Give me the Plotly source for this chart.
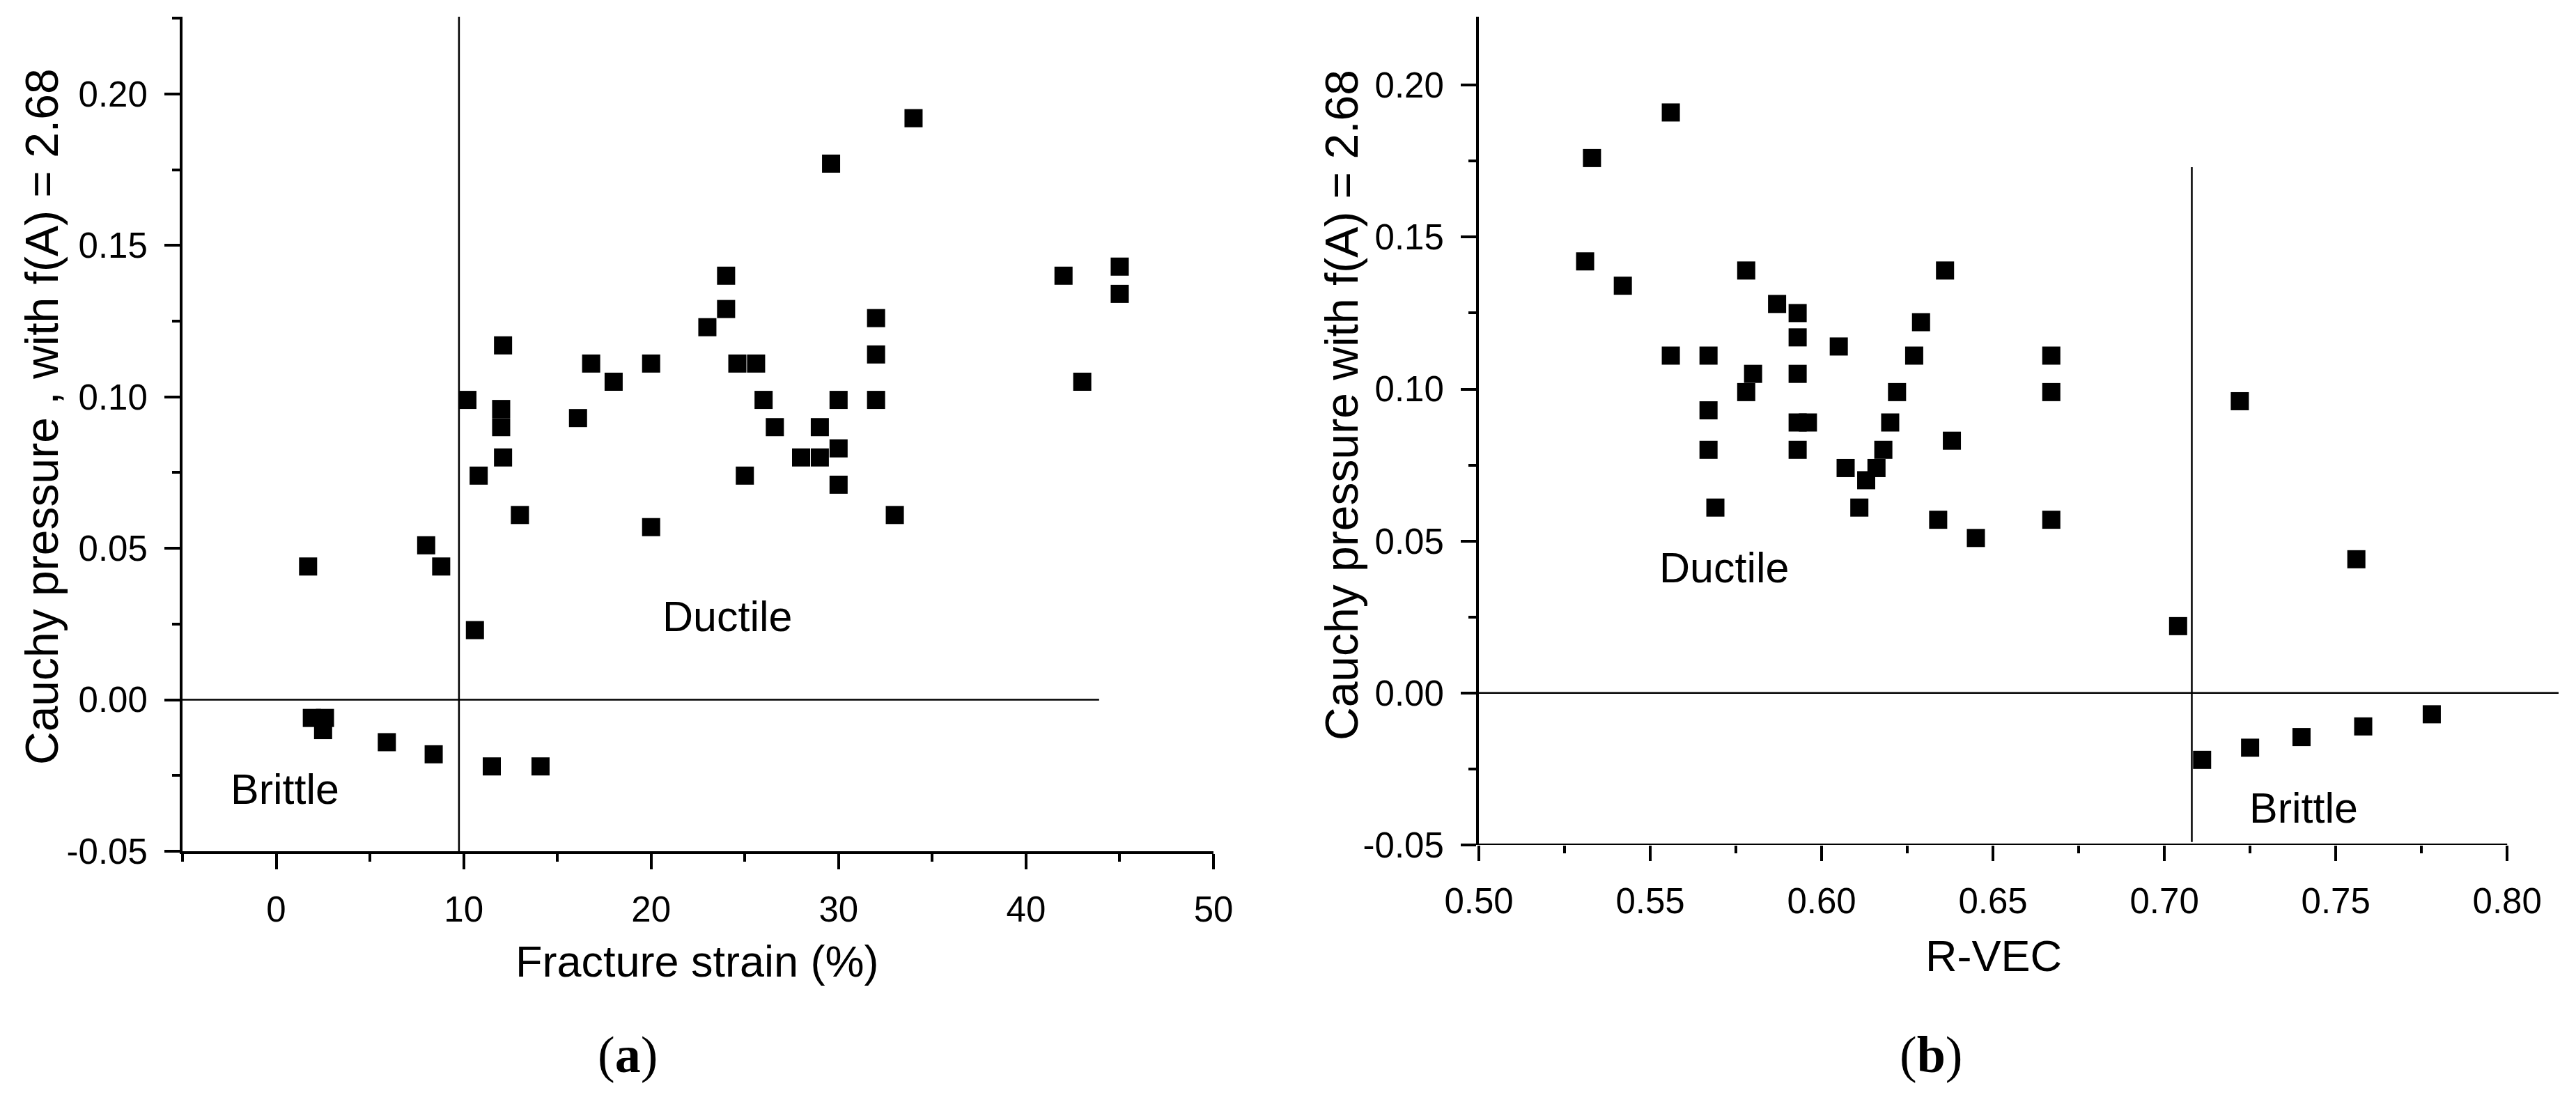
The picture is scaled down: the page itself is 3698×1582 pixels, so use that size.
import plotly.graph_objects as go

# panel (a): fracture strain vs Cauchy pressure
strain = [1.7, 8.0, 8.8, 10.6, 10.2, 10.8, 12.1, 12.0, 12.0, 12.1,
          13.0, 16.1, 16.8, 18.0, 20.0, 20.0, 23.0, 24.0, 24.0, 24.6,
          25.6, 25.0, 26.0, 26.6, 28.0, 29.0, 29.0, 29.6, 30.0, 30.0,
          30.0, 32.0, 32.0, 32.0, 33.0, 34.0, 42.0, 43.0, 45.0, 45.0,
          1.9, 2.6, 2.5, 5.9, 8.4, 11.5, 14.1]
cp_a = [0.044, 0.051, 0.044, 0.023, 0.099, 0.074, 0.117, 0.096, 0.090, 0.080,
        0.061, 0.093, 0.111, 0.105, 0.111, 0.057, 0.123, 0.140, 0.129, 0.111,
        0.111, 0.074, 0.099, 0.090, 0.080, 0.080, 0.090, 0.177, 0.099, 0.083,
        0.071, 0.126, 0.114, 0.099, 0.061, 0.192, 0.140, 0.105, 0.143, 0.134,
        -0.006, -0.006, -0.010, -0.014, -0.018, -0.022, -0.022]

# panel (b): R-VEC vs Cauchy pressure
rvec = [0.531, 0.533, 0.542, 0.556, 0.556, 0.567, 0.567, 0.567, 0.569, 0.578,
        0.578, 0.580, 0.587, 0.593, 0.593, 0.593, 0.593, 0.596, 0.593, 0.605,
        0.607, 0.611, 0.613, 0.616, 0.618, 0.620, 0.622, 0.627, 0.629, 0.634,
        0.636, 0.638, 0.645, 0.667, 0.667, 0.667, 0.704, 0.722, 0.756,
        0.711, 0.725, 0.740, 0.758, 0.778]
cp_b = [0.142, 0.176, 0.134, 0.191, 0.111, 0.111, 0.093, 0.080, 0.061, 0.139,
        0.099, 0.105, 0.128, 0.125, 0.117, 0.105, 0.089, 0.089, 0.080, 0.114,
        0.074, 0.061, 0.070, 0.074, 0.080, 0.089, 0.099, 0.111, 0.122, 0.057,
        0.139, 0.083, 0.051, 0.111, 0.099, 0.057, 0.022, 0.096, 0.044,
        -0.022, -0.018, -0.0145, -0.011, -0.007]

y_ticks = [-0.05, 0.00, 0.05, 0.10, 0.15, 0.20]
y_labels = ["-0.05", "0.00", "0.05", "0.10", "0.15", "0.20"]
xa_ticks = [0, 10, 20, 30, 40, 50]
xa_labels = ["0", "10", "20", "30", "40", "50"]
xb_ticks = [0.50, 0.55, 0.60, 0.65, 0.70, 0.75, 0.80]
xb_labels = ["0.50", "0.55", "0.60", "0.65", "0.70", "0.75", "0.80"]

# ductile / brittle boundaries
strain_cut = 9.75
rvec_cut = 0.708

FONT = "Liberation Sans, Arial, sans-serif"
W, H = 3698, 1582
OFF = 8  # default body margin of the page


def px(x):
    return (x - OFF) / W


def py(y):
    return 1 - (y - OFF) / H


fig = go.Figure()
fig.add_trace(go.Scatter(
    x=strain, y=cp_a, mode="markers", xaxis="x", yaxis="y",
    marker=dict(symbol="square", size=26, color="black", line_width=0),
    showlegend=False,
))
fig.add_trace(go.Scatter(
    x=rvec, y=cp_b, mode="markers", xaxis="x2", yaxis="y2",
    marker=dict(symbol="square", size=26, color="black", line_width=0),
    showlegend=False,
))

axis_common = dict(
    showgrid=False, zeroline=False, ticks="outside", tickwidth=4,
    ticklen=22, tickcolor="black", linecolor="black", linewidth=4,
    tickfont=dict(family=FONT, size=51, color="black"),
    ticklabelstandoff=14, automargin=False,
)
minor_common = dict(ticks="outside", ticklen=11, tickwidth=4, tickcolor="black")

fig.update_layout(
    template="none",
    width=W, height=H,
    margin=dict(l=0, r=0, t=0, b=0, pad=0),
    plot_bgcolor="white", paper_bgcolor="white",
    font=dict(family=FONT, color="black"),
    xaxis=dict(
        **axis_common, domain=[px(262), px(1742)], anchor="y",
        range=[-5, 50], showline=True,
        tickvals=xa_ticks, ticktext=xa_labels,
        minor=dict(tickvals=[-5, 5, 15, 25, 35, 45], **minor_common),
    ),
    yaxis=dict(
        **axis_common, domain=[py(1222), py(24)], anchor="x",
        range=[-0.05, 0.2255], showline=True,
        tickvals=y_ticks, ticktext=y_labels,
        minor=dict(tickvals=[-0.025, 0.025, 0.075, 0.125, 0.175, 0.225], **minor_common),
    ),
    xaxis2=dict(
        **axis_common, domain=[px(2123), px(3673)], anchor="y2",
        range=[0.5, 0.815], showline=False,
        tickvals=xb_ticks, ticktext=xb_labels,
        minor=dict(tickvals=[0.525, 0.575, 0.625, 0.675, 0.725, 0.775], **minor_common),
    ),
    yaxis2=dict(
        **axis_common, domain=[py(1213), py(24)], anchor="x2",
        range=[-0.05, 0.2225], showline=True,
        tickvals=y_ticks, ticktext=y_labels,
        minor=dict(tickvals=[-0.025, 0.025, 0.075, 0.125, 0.175], **minor_common),
    ),
)

thin = dict(color="black", width=2.5)
fig.add_shape(type="line", xref="x", yref="y", x0=strain_cut, x1=strain_cut,
              y0=-0.05, y1=0.2255, line=thin)
fig.add_shape(type="line", xref="x", yref="y", x0=-5, x1=43.9, y0=0, y1=0, line=thin)
fig.add_shape(type="line", xref="x2", yref="y2", x0=rvec_cut, x1=rvec_cut,
              y0=-0.049, y1=0.173, line=thin)
fig.add_shape(type="line", xref="x2", yref="y2", x0=0.5, x1=0.815, y0=0, y1=0, line=thin)
# bottom axis of panel (b) stops at 0.80
fig.add_shape(type="line", xref="x2", yref="y2", x0=0.5, x1=0.8, y0=-0.05, y1=-0.05,
              line=dict(color="black", width=4))

centred = dict(showarrow=False, xanchor="center", yanchor="middle")
label_font = dict(family=FONT, size=61, color="black")
fig.add_annotation(x=24.05, y=0.0276, xref="x", yref="y", text="Ductile",
                   font=label_font, **centred)
fig.add_annotation(x=0.45, y=-0.0295, xref="x", yref="y", text="Brittle",
                   font=label_font, **centred)
fig.add_annotation(x=0.5715, y=0.0413, xref="x2", yref="y2", text="Ductile",
                   font=label_font, **centred)
fig.add_annotation(x=0.7407, y=-0.0378, xref="x2", yref="y2", text="Brittle",
                   font=label_font, **centred)

ytitle_font = dict(family=FONT, size=66, color="black")
fig.add_annotation(x=px(60), y=py(598), xref="paper", yref="paper",
                   text="Cauchy pressure , with f(A) = 2.68", textangle=-90,
                   font=ytitle_font, **centred)
fig.add_annotation(x=px(1926), y=py(581), xref="paper", yref="paper",
                   text="Cauchy pressure with f(A) = 2.68", textangle=-90,
                   font=ytitle_font, **centred)
xtitle_font = dict(family=FONT, size=63, color="black")
fig.add_annotation(x=px(1001), y=py(1380), xref="paper", yref="paper",
                   text="Fracture strain (%)", font=xtitle_font, **centred)
fig.add_annotation(x=px(2862), y=py(1372), xref="paper", yref="paper",
                   text="R-VEC", font=xtitle_font, **centred)

serif = dict(family="Liberation Serif, Times New Roman, serif", size=74, color="black")
fig.add_annotation(x=px(901), y=py(1514), xref="paper", yref="paper",
                   text="(<b>a</b>)", font=serif, **centred)
fig.add_annotation(x=px(2772), y=py(1514), xref="paper", yref="paper",
                   text="(<b>b</b>)", font=serif, **centred)

fig.write_html("out.html")
